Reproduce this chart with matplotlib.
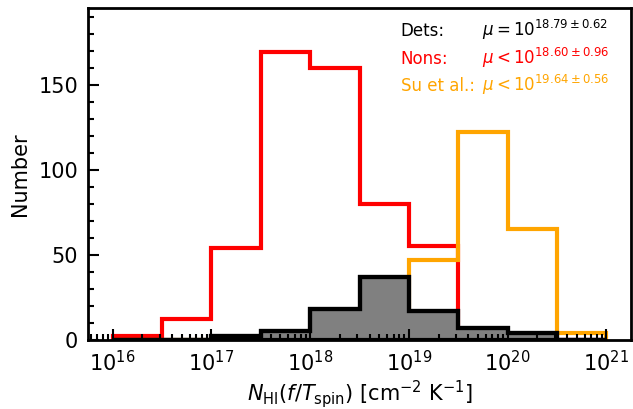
import numpy as np
import matplotlib
matplotlib.use("Agg")
import matplotlib.pyplot as plt

# bin edges in log10(N_HI f/T_spin)
log_edges = [16.0, 16.5, 17.0, 17.5, 18.0, 18.5, 19.0, 19.5, 20.0, 20.5, 21.0]
nons_counts = [2, 12, 54, 169, 160, 80, 55, 0, 0, 0]
su_counts = [0, 0, 0, 0, 0, 0, 47, 122, 65, 4]
dets_counts = [0, 0, 2, 5, 18, 37, 17, 7, 4, 0]

labels = ["Dets:", "Nons:", "Su et al.:"]
stats = [r"$\mu = 10^{18.79\pm0.62}$", r"$\mu < 10^{18.60\pm0.96}$", r"$\mu < 10^{19.64\pm0.56}$"]
colors = ["black", "red", "orange"]

edges = 10 ** np.array(log_edges)

fig = plt.figure(figsize=(6.33, 4.09), dpi=100)
ax = fig.add_axes([0.139, 0.169, 0.858, 0.811])

ax.stairs(nons_counts, edges, color="red", lw=3, baseline=0)
ax.stairs(su_counts, edges, color="orange", lw=3, baseline=0)
ax.stairs(dets_counts, edges, fill=True, facecolor="grey", edgecolor="black", lw=3, baseline=0)
ax.stairs(dets_counts, edges, color="black", lw=3, baseline=0)
ax.plot([edges[0], edges[-1]], [0, 0], color="black", lw=3, solid_capstyle="butt")

ax.set_xscale("log")
ax.set_xlim(10 ** 15.75, 10 ** 21.25)
ax.set_ylim(0, 195)
ax.set_yticks([0, 50, 100, 150])
ax.yaxis.set_minor_locator(matplotlib.ticker.MultipleLocator(10))
ax.tick_params(which="major", direction="in", length=8, width=1.5, labelsize=15, pad=7)
ax.tick_params(which="minor", direction="in", length=4, width=1.5)
for s in ax.spines.values():
    s.set_linewidth(2)

ax.set_xlabel(r"$N_{\rm HI}(f/T_{\rm spin})$ [cm$^{-2}$ K$^{-1}$]", fontsize=15, labelpad=2)
ax.set_ylabel("Number", fontsize=15, labelpad=6)

ys = [0.916, 0.831, 0.750]
for lab, st, c, y in zip(labels, stats, colors, ys):
    ax.text(0.576, y, lab, transform=ax.transAxes, color=c, fontsize=12, va="baseline", ha="left")
    ax.text(0.725, y, st, transform=ax.transAxes, color=c, fontsize=12, va="baseline", ha="left")

fig.savefig("out.png", dpi=100)
